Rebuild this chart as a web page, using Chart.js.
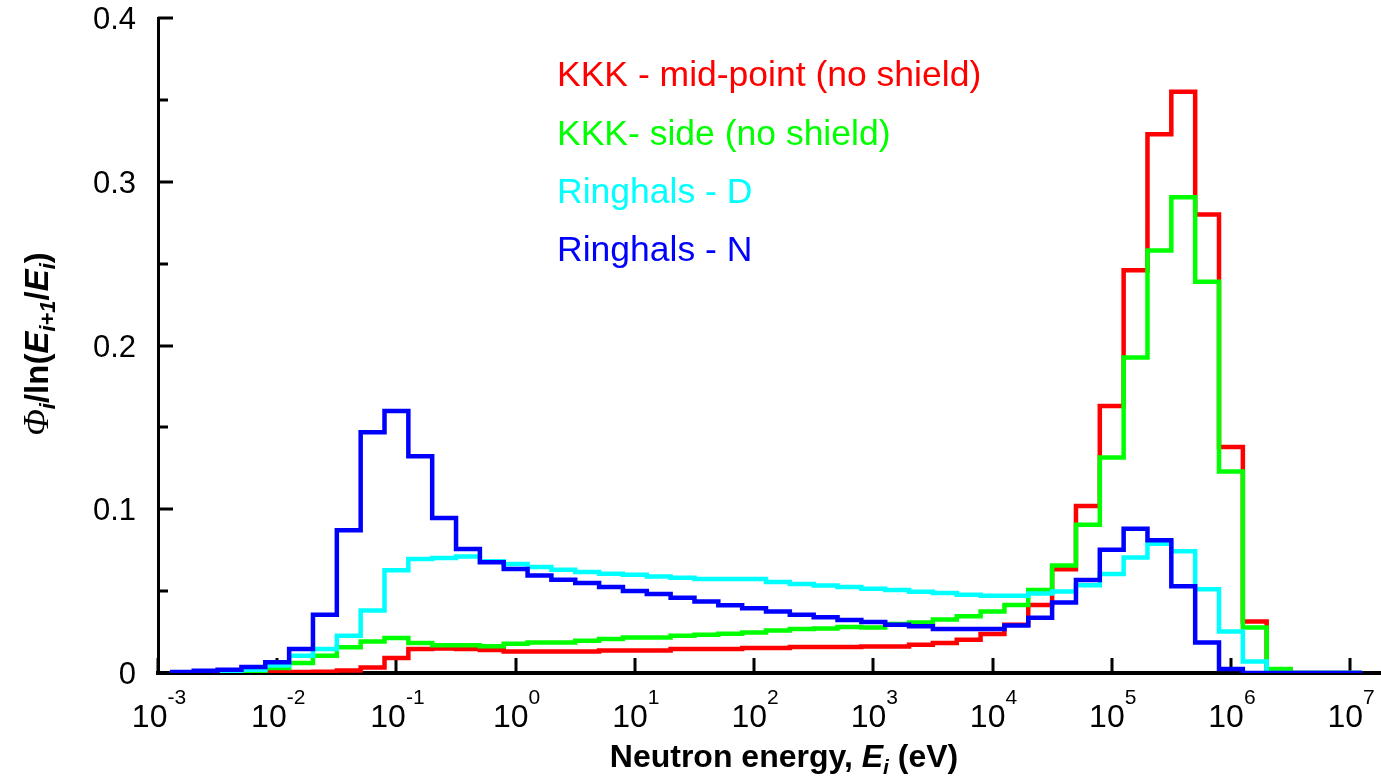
<!DOCTYPE html>
<html>
<head>
<meta charset="utf-8">
<title>Neutron spectra</title>
<script src="https://cdn.jsdelivr.net/npm/chart.js@4.4.1/dist/chart.umd.min.js"></script>
<style>
  html, body { margin: 0; padding: 0; background: #ffffff; }
  #wrap { width: 1381px; height: 782px; position: relative; }
  canvas { display: block; }
</style>
</head>
<body>
<div id="wrap"><canvas id="c" width="1381" height="782"></canvas></div>
<script>
// Energy group boundaries (eV), five groups per decade
const energyEdges = [
  1.259e-3, 1.995e-3, 3.162e-3, 5.012e-3, 7.943e-3,
  1.259e-2, 1.995e-2, 3.162e-2, 5.012e-2, 7.943e-2,
  1.259e-1, 1.995e-1, 3.162e-1, 5.012e-1, 7.943e-1,
  1.259e0,  1.995e0,  3.162e0,  5.012e0,  7.943e0,
  1.259e1,  1.995e1,  3.162e1,  5.012e1,  7.943e1,
  1.259e2,  1.995e2,  3.162e2,  5.012e2,  7.943e2,
  1.259e3,  1.995e3,  3.162e3,  5.012e3,  7.943e3,
  1.259e4,  1.995e4,  3.162e4,  5.012e4,  7.943e4,
  1.259e5,  1.995e5,  3.162e5,  5.012e5,  7.943e5,
  1.259e6,  1.995e6,  3.162e6,  5.012e6,  7.943e6,
  1.259e7
];

// Group flux per unit lethargy, one value per energy group
const kkkMidPoint = [
  0, 0.0002, 0.0003, 0.0004, 0.0005,
  0.0006, 0.0008, 0.0016, 0.0033, 0.0092,
  0.0147, 0.0150, 0.0147, 0.0140, 0.0132,
  0.0132, 0.0132, 0.0132, 0.0138, 0.0138,
  0.0138, 0.0147, 0.0147, 0.0147, 0.0153,
  0.0153, 0.0159, 0.0159, 0.0159, 0.0162,
  0.0162, 0.0173, 0.0183, 0.0203, 0.0238,
  0.0295, 0.0415, 0.0633, 0.102, 0.163,
  0.246, 0.329, 0.355, 0.280, 0.138,
  0.0315, 0.002, 0, 0, 0
];
const kkkSide = [
  0, 0.0002, 0.0005, 0.0010, 0.0031,
  0.0061, 0.0106, 0.0157, 0.0193, 0.0214,
  0.0183, 0.0169, 0.0169, 0.0163, 0.0179,
  0.0187, 0.0187, 0.0197, 0.0207, 0.0217,
  0.0217, 0.0228, 0.0234, 0.0240, 0.0248,
  0.0260, 0.0269, 0.0272, 0.0281, 0.0278,
  0.0299, 0.0309, 0.0326, 0.0346, 0.0376,
  0.0415, 0.0507, 0.0657, 0.0906, 0.1316,
  0.1927, 0.258, 0.2905, 0.239, 0.123,
  0.0278, 0.0024, 0, 0, 0
];
const ringhalsD = [
  0, 0.0003, 0.0010, 0.0020, 0.0046,
  0.0105, 0.0147, 0.0228, 0.0382, 0.0627,
  0.0696, 0.0702, 0.0712, 0.0682, 0.0666,
  0.0647, 0.0631, 0.0617, 0.0606, 0.0600,
  0.0590, 0.0582, 0.0574, 0.0574, 0.0574,
  0.0556, 0.0543, 0.0535, 0.0525, 0.0515,
  0.0507, 0.0496, 0.0489, 0.0478, 0.0472,
  0.0472, 0.0485, 0.0497, 0.0536, 0.0604,
  0.0705, 0.079, 0.0744, 0.0512, 0.0254,
  0.0070, 0, 0, 0, 0
];
const ringhalsN = [
  0.0006, 0.0014, 0.0020, 0.0037, 0.0065,
  0.0147, 0.0356, 0.0871, 0.147, 0.160,
  0.1323, 0.0946, 0.0757, 0.0676, 0.0635,
  0.0596, 0.0570, 0.0550, 0.0525, 0.0501,
  0.0483, 0.0460, 0.0437, 0.0413, 0.0395,
  0.0376, 0.0356, 0.0340, 0.0324, 0.0311,
  0.0295, 0.0285, 0.0269, 0.0269, 0.0268,
  0.0290, 0.0338, 0.0430, 0.0568, 0.0753,
  0.0881, 0.081, 0.053, 0.0187, 0.0024,
  0, 0, 0, 0, 0
];

const seriesLabels = [
  'KKK - mid-point (no shield)',
  'KKK- side (no shield)',
  'Ringhals - D',
  'Ringhals - N'
];
const seriesColors = ['#ff0000', '#00ff00', '#00ffff', '#0000ff'];

// Axis ticks
const xTickValues = [1e-3, 1e-2, 1e-1, 1e0, 1e1, 1e2, 1e3, 1e4, 1e5, 1e6, 1e7];
const xTickExponents = ['-3', '-2', '-1', '0', '1', '2', '3', '4', '5', '6', '7'];
const yTickValues = [0, 0.1, 0.2, 0.3, 0.4];
const yTickLabels = ['0', '0.1', '0.2', '0.3', '0.4'];
const yMinorTickValues = [0.05, 0.15, 0.25, 0.35];

// Histogram points: each group value starts at its lower boundary
function histogramPoints(values) {
  return energyEdges.map((e, i) => ({ x: e, y: values[Math.min(i, values.length - 1)] }));
}

const SANS = "'Liberation Sans', Arial, Helvetica, sans-serif";
const SERIF = "'Liberation Serif', 'Times New Roman', serif";

// Draws a row of text pieces with different fonts / baseline shifts
function drawRuns(ctx, runs, x, y, align) {
  let total = 0;
  runs.forEach(r => { ctx.font = r.font; r.w = ctx.measureText(r.t).width; total += r.w; });
  let cx = align === 'center' ? x - total / 2 : (align === 'right' ? x - total : x);
  ctx.textAlign = 'left';
  ctx.textBaseline = 'alphabetic';
  runs.forEach(r => { ctx.font = r.font; ctx.fillText(r.t, cx, y + (r.dy || 0)); cx += r.w; });
}

const axisDecor = {
  id: 'axisDecor',
  beforeDatasetsDraw(chart) {
    const ctx = chart.ctx;
    const xs = chart.scales.x, ys = chart.scales.y;
    const area = chart.chartArea;
    ctx.save();
    ctx.strokeStyle = '#000';
    ctx.lineWidth = 3;
    ctx.lineCap = 'butt';
    ctx.beginPath();
    xTickValues.forEach(v => {
      const px = Math.round(xs.getPixelForValue(v));
      ctx.moveTo(px, area.bottom);
      ctx.lineTo(px, area.bottom - 15);
    });
    yTickValues.forEach(v => {
      const py = Math.round(ys.getPixelForValue(v));
      ctx.moveTo(area.left, py);
      ctx.lineTo(area.left + 15, py);
    });
    yMinorTickValues.forEach(v => {
      const py = Math.round(ys.getPixelForValue(v));
      ctx.moveTo(area.left, py);
      ctx.lineTo(area.left + 10, py);
    });
    ctx.stroke();
    ctx.restore();
  },
  afterDraw(chart) {
    const ctx = chart.ctx;
    const xs = chart.scales.x, ys = chart.scales.y;
    ctx.save();
    ctx.fillStyle = '#000';

    // x tick labels: 10 with superscript exponent
    xTickValues.forEach((v, i) => {
      const px = xs.getPixelForValue(v);
      drawRuns(ctx, [
        { t: '10', font: `32px ${SANS}` },
        { t: xTickExponents[i], font: `21px ${SANS}`, dy: -23 }
      ], px + 1, 727, 'center');
    });

    // y tick labels
    ctx.font = `31px ${SANS}`;
    ctx.textAlign = 'right';
    ctx.textBaseline = 'alphabetic';
    yTickValues.forEach((v, i) => {
      const py = ys.getPixelForValue(v);
      ctx.fillText(yTickLabels[i], 136, py + 11);
    });

    // x axis title
    drawRuns(ctx, [
      { t: 'Neutron energy, ', font: `bold 32px ${SANS}` },
      { t: 'E', font: `italic bold 32px ${SANS}` },
      { t: 'i', font: `italic bold 21px ${SANS}`, dy: 7 },
      { t: ' (eV)', font: `bold 32px ${SANS}` }
    ], 784, 767, 'center');

    // y axis title
    ctx.save();
    ctx.translate(48, 344);
    ctx.rotate(-Math.PI / 2);
    drawRuns(ctx, [
      { t: 'Φ', font: `italic 35px ${SERIF}` },
      { t: 'i', font: `italic bold 22px ${SANS}`, dy: 7 },
      { t: '/ln(', font: `bold 33px ${SANS}` },
      { t: 'E', font: `italic bold 33px ${SANS}` },
      { t: 'i+1', font: `italic bold 22px ${SANS}`, dy: 7 },
      { t: '/', font: `bold 33px ${SANS}` },
      { t: 'E', font: `italic bold 33px ${SANS}` },
      { t: 'i', font: `italic bold 22px ${SANS}`, dy: 7 },
      { t: ')', font: `bold 33px ${SANS}` }
    ], 0, 0, 'center');
    ctx.restore();

    // Legend as coloured labels
    const baselines = [86, 144.5, 203, 261];
    ctx.font = `35.5px ${SANS}`;
    ctx.textAlign = 'left';
    chart.data.datasets.forEach((ds, i) => {
      ctx.fillStyle = ds.borderColor;
      ctx.fillText(ds.label, 557, baselines[i]);
    });
    ctx.restore();
  }
};

const seriesValues = [kkkMidPoint, kkkSide, ringhalsD, ringhalsN];

new Chart(document.getElementById('c'), {
  type: 'line',
  data: {
    datasets: seriesValues.map((vals, i) => ({
      label: seriesLabels[i],
      data: histogramPoints(vals),
      borderColor: seriesColors[i],
      backgroundColor: seriesColors[i],
      borderWidth: 4.5,
      stepped: 'before',
      pointRadius: 0,
      fill: false,
      borderJoinStyle: 'miter',
      borderCapStyle: 'butt',
      order: 3 - i
    }))
  },
  options: {
    responsive: false,
    animation: false,
    events: [],
    layout: { padding: { left: 158, right: 1, top: 18, bottom: 109 } },
    plugins: {
      legend: { display: false },
      tooltip: { enabled: false }
    },
    scales: {
      x: {
        type: 'logarithmic',
        min: 1e-3,
        max: 1.78e7,
        ticks: { display: false },
        grid: { display: false, drawTicks: false },
        border: { display: true, color: '#000', width: 4 }
      },
      y: {
        type: 'linear',
        min: 0,
        max: 0.4,
        ticks: { display: false },
        grid: { display: false, drawTicks: false },
        border: { display: true, color: '#000', width: 3 }
      }
    }
  },
  plugins: [axisDecor]
});
</script>
</body>
</html>
